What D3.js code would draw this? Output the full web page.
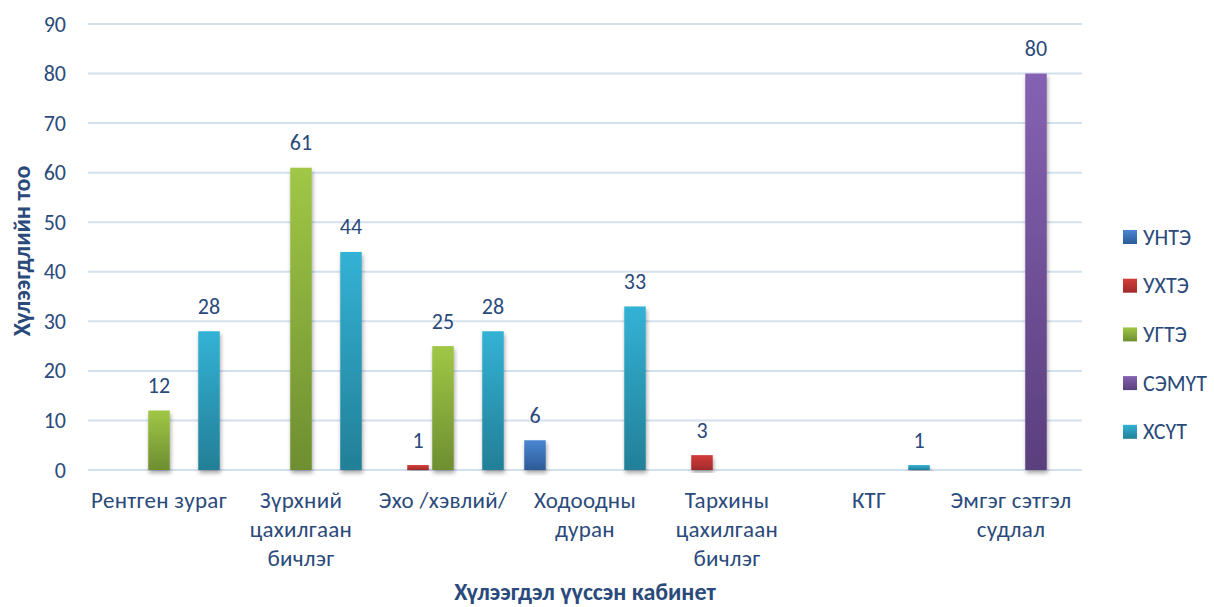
<!DOCTYPE html>
<html><head><meta charset="utf-8">
<script src="https://cdn.jsdelivr.net/npm/d3@7"></script>
<style>
html,body{margin:0;padding:0;background:#fff;}
svg{display:block;font-family:Carlito,Lato,"Open Sans",sans-serif;}
</style></head>
<body>
<svg id="chart" width="1214" height="607"></svg>
<script>
const categories = ["Рентген зураг", "Зүрхний\nцахилгаан\nбичлэг", "Эхо /хэвлий/", "Ходоодны\nдуран", "Тархины\nцахилгаан\nбичлэг", "КТГ", "Эмгэг сэтгэл\nсудлал"];
const seriesNames = ["УНТЭ", "УХТЭ", "УГТЭ", "СЭМҮТ", "ХСҮТ"];
const valuesUNTE  = [0, 0, 0, 6, 0, 0, 0];
const valuesUKHTE = [0, 0, 1, 0, 3, 0, 0];
const valuesUGTE  = [12, 61, 25, 0, 0, 0, 0];
const valuesSEMUT = [0, 0, 0, 0, 0, 0, 80];
const valuesKHSUT = [28, 44, 28, 33, 0, 1, 0];
const yTicks = [0, 10, 20, 30, 40, 50, 60, 70, 80, 90];
const yTitle = "Хүлээгдлийн тоо";
const xTitle = "Хүлээгдэл үүссэн кабинет";

const seriesValues = [valuesUNTE, valuesUKHTE, valuesUGTE, valuesSEMUT, valuesKHSUT];
const colors = [
  ["#4a86d2", "#2c5b98"],
  ["#d33d3b", "#a02a2a"],
  ["#a0c746", "#6e8e31"],
  ["#8562b2", "#5a3f7d"],
  ["#33b2d5", "#237f97"]
];
const textColor = "#2a4a7b";
const fs = "22px";

const svg = d3.select("#chart");
const m = {left: 88, right: 1082, top: 24, bottom: 470};

const x0 = d3.scaleBand().domain(d3.range(categories.length)).range([m.left, m.right]).padding(0);
const groupW = 125;
const x1 = d3.scaleBand().domain(d3.range(seriesNames.length)).range([-groupW/2, groupW/2]).paddingInner(0.14).paddingOuter(0.07);
const y = d3.scaleLinear().domain([0, 90]).range([m.bottom, m.top]);

const defs = svg.append("defs");
colors.forEach((c, i) => {
  const g = defs.append("linearGradient").attr("id", "g" + i).attr("x1", 0).attr("y1", 0).attr("x2", 0).attr("y2", 1);
  g.append("stop").attr("offset", "0%").attr("stop-color", c[0]);
  g.append("stop").attr("offset", "100%").attr("stop-color", c[1]);
});
const f = defs.append("filter").attr("id", "shadow").attr("x", "-50%").attr("y", "-20%").attr("width", "200%").attr("height", "140%");
f.append("feDropShadow").attr("dx", 1).attr("dy", 3).attr("stdDeviation", 2).attr("flood-color", "#000").attr("flood-opacity", 0.35);

// gridlines
svg.append("g").selectAll("line").data(yTicks).join("line")
  .attr("x1", m.left).attr("x2", m.right)
  .attr("y1", d => y(d)).attr("y2", d => y(d))
  .attr("stroke", "#d5e0ef").attr("stroke-width", 2);

// y axis labels
const yAxis = svg.append("g").attr("transform", `translate(${m.left - 22},0)`)
  .call(d3.axisLeft(y).tickValues(yTicks).tickSize(0).tickPadding(0));
yAxis.select(".domain").remove();
yAxis.selectAll("text").attr("fill", textColor).style("font-size", fs).style("font-family", "Carlito,Lato,'Open Sans',sans-serif");

// bars
const data = [];
seriesValues.forEach((vals, s) => vals.forEach((v, c) => { if (v > 0) data.push({s, c, v}); }));
const bw = x1.bandwidth();
svg.append("g").selectAll("rect").data(data).join("rect")
  .attr("x", d => x0(d.c) + x0.bandwidth()/2 + x1(d.s))
  .attr("width", bw)
  .attr("y", d => y(d.v))
  .attr("height", d => y(0) - y(d.v))
  .attr("fill", d => `url(#g${d.s})`)
  .attr("filter", "url(#shadow)");

// value labels
svg.append("g").selectAll("text").data(data).join("text")
  .attr("x", d => x0(d.c) + x0.bandwidth()/2 + x1(d.s) + bw/2)
  .attr("y", d => y(d.v) - 17.5)
  .attr("text-anchor", "middle")
  .attr("fill", textColor).style("font-size", fs)
  .text(d => d.v);

// category labels
const cl = svg.append("g");
categories.forEach((c, i) => {
  const t = cl.append("text").attr("text-anchor", "middle").attr("fill", textColor)
    .style("font-size", "23px").style("letter-spacing", "0.3px");
  c.split("\n").forEach((line, k) => {
    t.append("tspan").attr("x", x0(i) + x0.bandwidth()/2).attr("y", 508 + k * 29).text(line);
  });
});

// axis titles
svg.append("text").attr("transform", `translate(30,${(m.top + m.bottom)/2 + 4}) rotate(-90)`)
  .attr("text-anchor", "middle").attr("fill", textColor).style("font-size", "24px").style("font-weight", "bold").text(yTitle);
svg.append("text").attr("x", 585).attr("y", 600)
  .attr("text-anchor", "middle").attr("fill", textColor).style("font-size", "24px").style("font-weight", "bold").text(xTitle);

// legend
const lg = svg.append("g");
seriesNames.forEach((n, i) => {
  const yy = 237 + i * 48.7;
  lg.append("rect").attr("x", 1123).attr("y", yy - 7).attr("width", 14).attr("height", 14).attr("fill", `url(#g${i})`);
  lg.append("text").attr("x", 1143).attr("y", yy + 7.5).attr("fill", textColor).style("font-size", fs).text(n);
});
</script>
</body></html>
